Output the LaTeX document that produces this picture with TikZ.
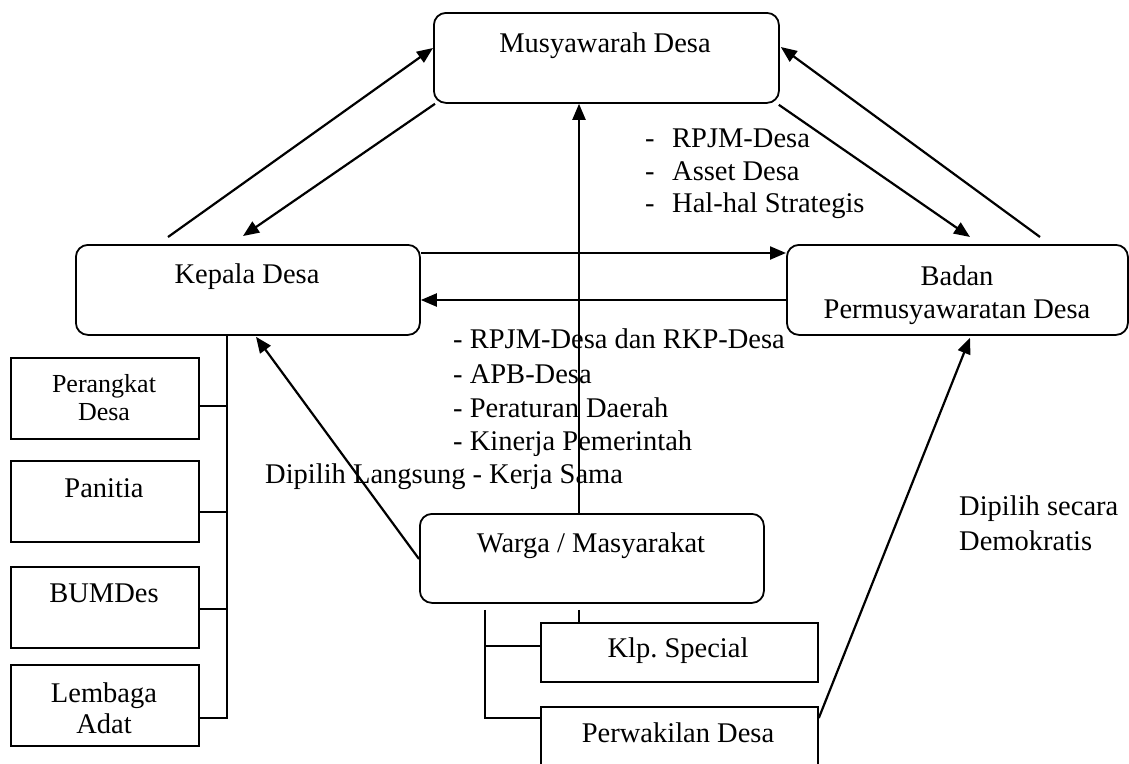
\documentclass[tikz,border=0pt]{standalone}
\usepackage{fontspec}
\setmainfont{Liberation Serif}
\usetikzlibrary{arrows.meta,calc}
\frenchspacing
\begin{document}
\begin{tikzpicture}[x=1pt,y=-1pt,
  rbox/.style={draw,line width=1.8pt,rounded corners=12pt,inner sep=0pt,anchor=north west},
  sbox/.style={draw,line width=1.8pt,inner sep=0pt,anchor=north west},
  txt/.style={anchor=base,inner sep=0pt,font=\fontsize{28.5}{34}\selectfont},
  stxt/.style={anchor=base,inner sep=0pt,font=\fontsize{26}{30}\selectfont},
  ltxt/.style={anchor=base west,inner sep=0pt,font=\fontsize{28.5}{34}\selectfont},
  arr/.style={line width=2.2pt,-{Triangle[length=16pt,width=13pt]}},
  ln/.style={line width=1.8pt}]
\useasboundingbox (0,0) rectangle (1129,763);
\clip (0,0) rectangle (1129,763);

% boxes
\node[rbox,minimum width=345pt,minimum height=90pt] (mus) at (433,12) {};
\node[rbox,minimum width=344pt,minimum height=90pt] (kep) at (75,244) {};
\node[rbox,minimum width=341pt,minimum height=90pt] (bpd) at (786,244) {};
\node[rbox,minimum width=344pt,minimum height=89pt] (warga) at (419,513) {};
\node[sbox,minimum width=188pt,minimum height=81pt] (pd) at (10,357) {};
\node[sbox,minimum width=188pt,minimum height=81pt] (pan) at (10,460) {};
\node[sbox,minimum width=188pt,minimum height=81pt] (bum) at (10,566) {};
\node[sbox,minimum width=188pt,minimum height=81pt] (adat) at (10,664) {};
\node[sbox,minimum width=277pt,minimum height=59pt] (klp) at (540,622) {};
\node[sbox,minimum width=277pt,minimum height=75pt] (pw) at (540,706) {};

% box texts
\node[txt] (tmus) at (605,52) {Musyawarah Desa};
\node[txt] (tkep) at (247,283) {Kepala Desa};
\node[txt] (tbpd1) at (957,285) {Badan};
\node[txt] (tbpd2) at (957,318) {Permusyawaratan Desa};
\node[txt] (twarga) at (591,552) {Warga / Masyarakat};
\node[txt] (tklp) at (678,657) {Klp. Special};
\node[txt] (tpw) at (678,742) {Perwakilan Desa};
\node[stxt] (tpd1) at (104,392) {Perangkat};
\node[stxt] (tpd2) at (104,420) {Desa};
\node[txt] (tpan) at (104,497) {Panitia};
\node[txt] (tbum) at (104,602) {BUMDes};
\node[txt] (tadat1) at (104,702) {Lembaga};
\node[txt] (tadat2) at (104,733) {Adat};

% labels
\node[ltxt] (d1) at (645,147) {-};
\node[ltxt] (l1) at (672,147) {RPJM-Desa};
\node[ltxt] (d2) at (645,180) {-};
\node[ltxt] (l2) at (672,180) {Asset Desa};
\node[ltxt] (d3) at (645,212) {-};
\node[ltxt] (l3) at (672,212) {Hal-hal Strategis};

\node[ltxt] (m1) at (453,348) {- RPJM-Desa dan RKP-Desa};
\node[ltxt] (m2) at (453,383) {- APB-Desa};
\node[ltxt] (m3) at (453,417) {- Peraturan Daerah};
\node[ltxt] (m4) at (453,450) {- Kinerja Pemerintah};
\node[ltxt] (dl) at (265,483) {Dipilih Langsung - Kerja Sama};
\node[ltxt] (ds1) at (959,515) {Dipilih secara};
\node[ltxt] (ds2) at (959,550) {Demokratis};

% arrows
\draw[arr] ($(kep.north west)+(93,-7)$) -- ($(mus.north west)+(0,36)$);
\draw[arr] ($(mus.south west)+(2,0)$) -- ($(kep.north west)+(168,-8)$);
\draw[arr] ($(mus.south east)+(-1,1)$) -- ($(bpd.north west)+(184,-7)$);
\draw[arr] ($(bpd.north west)+(254,-7)$) -- ($(mus.north east)+(1,35)$);
\draw[arr] ($(kep.north east)+(0,9)$) -- ($(bpd.north west)+(0,9)$);
\draw[arr] ($(bpd.north west)+(0,56)$) -- ($(kep.north east)+(0,56)$);
\draw[arr] ($(warga.north west)+(160,0)$) -- ($(mus.south west)+(146,0)$);
\draw[arr] ($(warga.north west)+(0,46)$) -- ($(kep.south west)+(181,1)$);
\draw[arr] ($(pw.north east)+(0,12)$) -- ($(bpd.south west)+(184,2)$);

% tree under Kepala Desa
\draw[ln] ($(kep.south west)+(152,0)$) coordinate (kv) |- ($(adat.north east)+(0,54)$);
\draw[ln] ($(pd.north east)+(0,49)$) -- (kv |- {$(pd.north east)+(0,49)$});
\draw[ln] ($(pan.north east)+(0,52)$) -- (kv |- {$(pan.north east)+(0,52)$});
\draw[ln] ($(bum.north east)+(0,43)$) -- (kv |- {$(bum.north east)+(0,43)$});

% tree under Warga
\draw[ln] ($(warga.south west)+(66,6)$) coordinate (wv) |- ($(pw.north west)+(0,12)$);
\draw[ln] ($(klp.north west)+(0,24)$) -- (wv |- {$(klp.north west)+(0,24)$});
\draw[ln] ($(warga.south west)+(160,6)$) -- ($(klp.north west)+(39,0)$);
\end{tikzpicture}
\end{document}
